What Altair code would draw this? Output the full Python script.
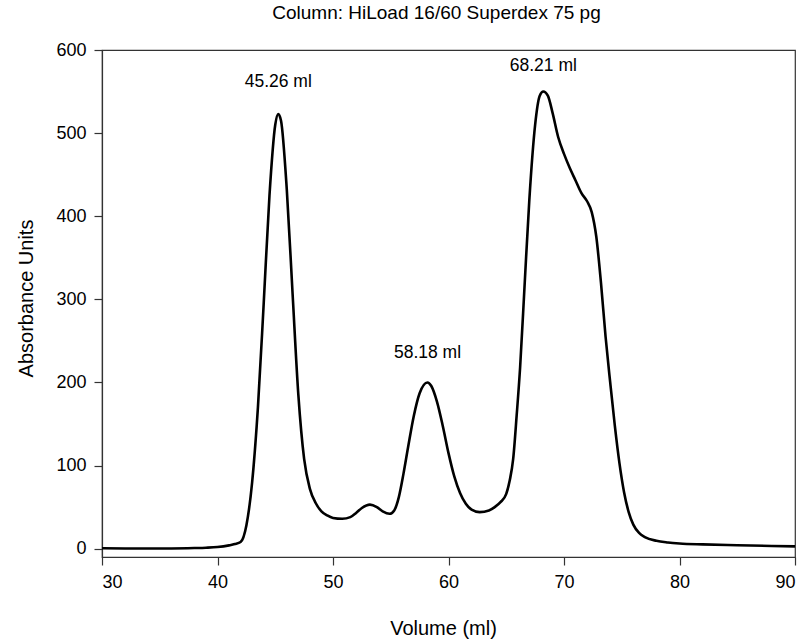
import altair as alt
import pandas as pd

volume = [30, 32, 34, 36, 38, 39, 40, 41, 41.5, 42, 42.5, 43, 43.5, 44, 44.5, 45, 45.26,
          45.5, 46, 46.5, 47, 47.5, 48, 48.5, 49, 49.5, 50, 50.8, 51.5, 52, 52.5, 53.2,
          53.8, 54.3, 54.9, 55.3, 55.7, 56.1, 56.5, 57, 57.5, 58.18, 58.5, 59, 59.5, 60,
          60.5, 61, 61.5, 62, 62.7, 63.5, 64, 64.5, 65, 65.3, 65.6, 65.9, 66.2, 66.6, 67,
          67.5, 67.9, 68.21, 68.6, 69, 69.5, 70, 70.5, 71, 71.5, 72, 72.4, 72.8, 73.2,
          73.6, 74, 74.4, 74.8, 75.2, 75.6, 76, 76.5, 77, 78, 79, 80, 82, 85, 88, 90]
absorbance = [0.5, 0.3, 0.2, 0.3, 0.8, 1.2, 2, 4, 5.5, 8, 28, 80, 170, 295, 425, 510, 523,
              515, 432, 307, 185, 108, 72, 55, 45, 40, 37, 36, 38, 43, 49, 53,
              50, 45, 42, 46, 62, 90, 122, 160, 187, 200, 196, 177, 148, 115,
              87, 67, 54, 47, 44, 46, 50, 56, 66, 82, 108, 160, 218, 320, 420,
              510, 545, 550, 545, 525, 495, 475, 458, 443, 428, 418, 405, 375, 320,
              255, 200, 148, 103, 68, 44, 29, 19, 14, 9.5, 7.5, 6.3, 5.2, 4.2, 3.3, 2.8]

label_x = [45.26, 58.18, 68.21]
label_y = [561, 235, 581]
label_text = ["45.26 ml", "58.18 ml", "68.21 ml"]

curve = pd.DataFrame({"Volume": volume, "Absorbance": absorbance})
labels = pd.DataFrame({"Volume": label_x, "Absorbance": label_y, "text": label_text})

FONT = "Liberation Sans"

xscale = alt.Scale(domain=[30, 90], nice=False, zero=False)
yscale = alt.Scale(domain=[-10, 600], nice=False, zero=False)

line = alt.Chart(curve).mark_line(color="black", strokeWidth=2.6, interpolate="monotone").encode(
    x=alt.X("Volume:Q", scale=xscale,
            axis=alt.Axis(title="Volume (ml)", values=[30, 40, 50, 60, 70, 80, 90],
                          titleX=341, titleY=77, titleBaseline="alphabetic")),
    y=alt.Y("Absorbance:Q", scale=yscale,
            axis=alt.Axis(title="Absorbance Units", values=[0, 100, 200, 300, 400, 500, 600],
                          titleX=-70, titleY=248, titleAngle=-90, titleAlign="center",
                          titleBaseline="alphabetic")),
)

text = alt.Chart(labels).mark_text(font=FONT, fontSize=17.5, color="black", baseline="middle").encode(
    x=alt.X("Volume:Q", scale=xscale),
    y=alt.Y("Absorbance:Q", scale=yscale),
    text="text:N",
)

chart = (line + text).properties(
    width=693, height=507,
    background="white",
    padding={"left": 102, "top": 50, "right": 12, "bottom": 87},
    autosize=alt.AutoSizeParams(type="none"),
    title=alt.TitleParams("Column: HiLoad 16/60 Superdex 75 pg", font=FONT, fontSize=19,
                          fontWeight="normal", color="black", anchor="middle", offset=18, dx=-12),
).configure_view(stroke="#333333", strokeWidth=1.2).configure_axis(
    grid=False, domainColor="#333333", domainWidth=1.2, tickColor="#333333", tickWidth=1.2,
    tickSize=8, labelFont=FONT, labelFontSize=18, labelColor="black", labelPadding=8,
    titleFont=FONT, titleFontSize=20, titleFontWeight="normal", titleColor="black",
)

chart.save("out.html", embed_options={"renderer": "svg", "actions": False})
